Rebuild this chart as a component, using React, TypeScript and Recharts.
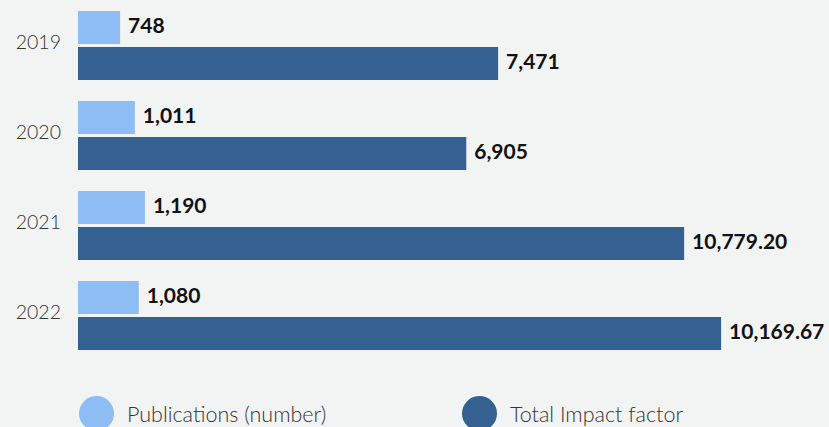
import React from 'react';
import { BarChart, Bar, XAxis, YAxis, Legend, LabelList } from 'recharts';

const years = ['2019', '2020', '2021', '2022'];
const publications = [748, 1011, 1190, 1080];
const impactFactor = [7471, 6905, 10779.2, 11437];
const publicationLabels = ['748', '1,011', '1,190', '1,080'];
const impactLabels = ['7,471', '6,905', '10,779.20', '10,169.67'];
const seriesNames = ['Publications (number)', 'Total Impact factor'];

const lightColor = '#8dbdf4';
const darkColor = '#356191';
const bgColor = '#f2f3f3';
const font = 'Lato, "Open Sans", sans-serif';

const data = years.map((year, i) => ({
    year,
    publications: publications[i],
    impact: impactFactor[i],
}));

const ValueLabel = (labels: string[]) => (props: any) => {
    const { x = 0, y = 0, width = 0, height = 0, index = 0 } = props;
    return (
        <text
            x={Number(x) + Number(width) + 8}
            y={Number(y) + Number(height) / 2 - 3}
            dominantBaseline="central"
            fontFamily={font}
            fontWeight={700}
            fontSize={21}
            fill="#111"
        >
            {labels[index]}
        </text>
    );
};

const YearTick = (props: any) => {
    const { x, y, payload } = props;
    return (
        <text x={x} y={y - 4} textAnchor="end" dominantBaseline="central" fontFamily={font} fontWeight={300} fontSize={19.5} fill="#333">
            {payload.value}
        </text>
    );
};

const LegendContent = () => {
    const colors = [lightColor, darkColor];
    const lefts = [79, 462];
    return (
        <div style={{ position: 'relative', width: 829, height: 40 }}>
            {seriesNames.map((name, i) => (
                <div key={name} style={{ position: 'absolute', left: lefts[i], top: 0, display: 'flex', alignItems: 'center' }}>
                    <span style={{ width: 35, height: 35, borderRadius: '50%', background: colors[i], display: 'inline-block' }} />
                    <span style={{ marginLeft: 13, fontFamily: font, fontWeight: 300, fontSize: 21.5, color: '#333' }}>{name}</span>
                </div>
            ))}
        </div>
    );
};

export default function App() {
    return (
        <div style={{ position: 'absolute', top: 0, left: 0, width: 829, height: 427, background: bgColor, overflow: 'hidden' }}>
            <BarChart
                width={829}
                height={427}
                data={data}
                layout="vertical"
                margin={{ top: 0, right: 20, bottom: 67, left: 0 }}
                barSize={33}
                barGap={3}
            >
                <XAxis type="number" domain={[0, 13000]} hide />
                <YAxis
                    type="category"
                    dataKey="year"
                    width={78}
                    axisLine={false}
                    tickLine={false}
                    tickSize={0}
                    tickMargin={17}
                    tick={<YearTick />}
                />
                <Legend
                    layout="vertical"
                    verticalAlign="middle"
                    align="center"
                    content={<LegendContent />}
                    wrapperStyle={{ top: 396, left: 0, width: 829 }}
                />
                <Bar dataKey="publications" name={seriesNames[0]} fill={lightColor} isAnimationActive={false}>
                    <LabelList dataKey="publications" content={ValueLabel(publicationLabels)} />
                </Bar>
                <Bar dataKey="impact" name={seriesNames[1]} fill={darkColor} isAnimationActive={false}>
                    <LabelList dataKey="impact" content={ValueLabel(impactLabels)} />
                </Bar>
            </BarChart>
        </div>
    );
}
